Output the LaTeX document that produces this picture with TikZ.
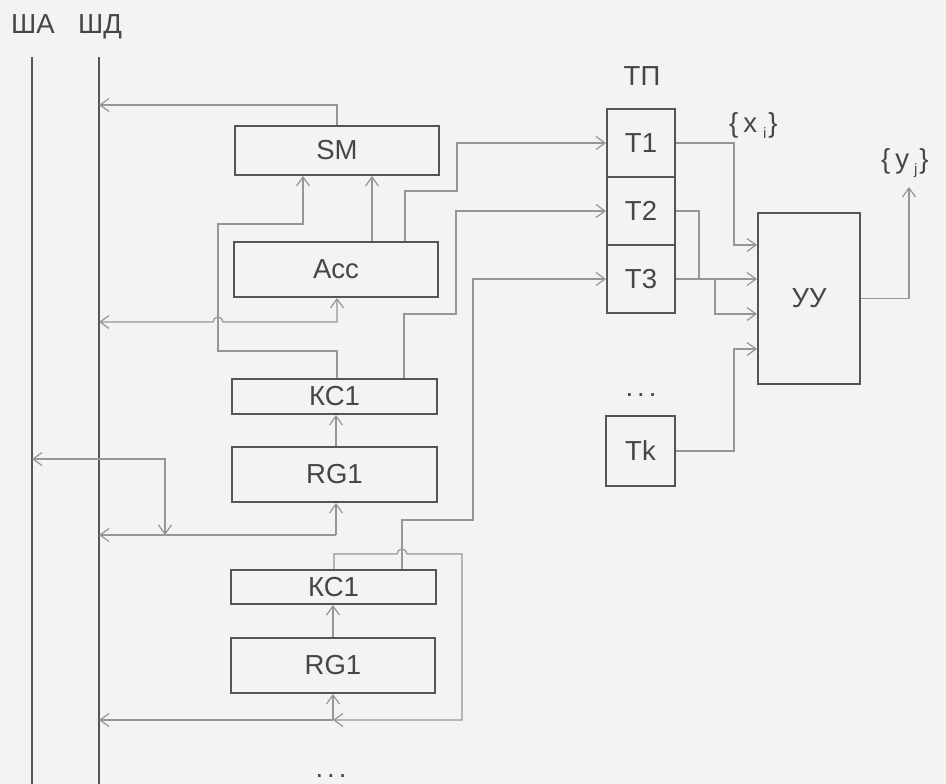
\documentclass[tikz,border=0pt]{standalone}
\usepackage{fontspec}
\setmainfont{Liberation Sans}
\usetikzlibrary{arrows.meta}
\definecolor{bg}{RGB}{243,243,241}
\definecolor{boxc}{RGB}{85,85,85}
\definecolor{wire}{RGB}{150,150,150}
\definecolor{txt}{RGB}{70,70,70}
\newcommand\mylbl{\fontsize{27.5}{30}\selectfont}
\newcommand\mysub{\fontsize{15}{15}\selectfont}
\newcommand\mydots{.\kern4pt.\kern4pt.}
\begin{document}
\begin{tikzpicture}[x=1pt,y=-1pt,
  >={Straight Barb[length=9pt,width=13pt]},
  box/.style={draw=boxc,line width=2pt,inner sep=0pt,font=\mylbl,text=txt},
  conn/.style={draw=wire,line width=1.2pt},
  lbl/.style={font=\mylbl,text=txt,inner sep=0pt},
  bus/.style={draw=boxc,line width=2pt}]
\fill[bg] (0,0) rectangle (946,784);
\useasboundingbox (0,0) rectangle (946,784);

% blocks
\node[box,minimum width=204pt,minimum height=49pt] (SM) at (337,150.5) {SM};
\node[box,minimum width=204pt,minimum height=55pt] (Acc) at (336,269.5) {Acc};
\node[box,minimum width=205pt,minimum height=35pt] (KCa) at (334.5,396.5) {КС1};
\node[box,minimum width=205pt,minimum height=55pt] (RGa) at (334.5,474.5) {RG1};
\node[box,minimum width=205pt,minimum height=34pt] (KCb) at (333.5,587) {КС1};
\node[box,minimum width=204pt,minimum height=55pt] (RGb) at (333,665.5) {RG1};
\node[box,minimum size=68pt] (T1) at (641,143) {T1};
\node[box,minimum size=68pt] (T2) at (641,211) {T2};
\node[box,minimum size=68pt] (T3) at (641,279) {T3};
\node[box,minimum width=69pt,minimum height=70pt] (Tk) at (640.5,451) {Tk};
\node[box,minimum width=102pt,minimum height=171pt] (YY) at (809,298.5) {УУ};

% labels
\node[lbl,anchor=base] (lSHA) at (33,34) {ША};
\node[lbl,anchor=base] (lSHD) at (100,34) {ШД};
\node[lbl,anchor=base] (lTP) at (642,85) {ТП};
\node[lbl,anchor=base west] (lx) at (729,132) {\{\kern5pt x\kern6pt\raisebox{-6pt}{\mysub i}\kern2pt\}};
\node[lbl,anchor=base west] (ly) at (881,168) {\{\kern5pt y\kern5pt\raisebox{-6pt}{\mysub j}\kern2pt\}};
\node[lbl,anchor=base] (dots1) at (641,396) {\mydots};
\node[lbl,anchor=base] (dots2) at (331,777) {\mydots};

% buses
\coordinate (shaT) at (32,57); \coordinate (shaB) at (32,784);
\coordinate (shdT) at (99,57); \coordinate (shdB) at (99,784);
\draw[bus] (shaT) -- (shaB);
\draw[bus] (shdT) -- (shdB);

% left connectors
\draw[conn,->] (SM.north) |- (shdT |- 0,105);
\draw[conn,->] (Acc.north -| 372,0) -- (SM.south -| 372,0);
\draw[conn,->] (KCa.north -| 337,0) -- (337,351) -- (218,351) -- (218,224) -- (303,224) -- (SM.south -| 303,0);
\draw[conn,<->] (shdT |- 0,322) -- (213,322) arc[start angle=180,end angle=0,radius=5pt] -- (337,322) -- (Acc.south -| 337,0);
\draw[conn,->] (Acc.north -| 405,0) -- (405,191) -- (457,191) |- (T1.west);
\draw[conn,->] (KCa.north -| 404,0) -- (404,314) -- (456,314) |- (T2.west);
\draw[conn,->] (KCb.north -| 402,0) -- (402,520) -- (473,520) |- (T3.west);
\coordinate (j2) at (333,720);
\draw[conn,->] (KCb.north -| 334,0) -- (334,554) -- (397,554) arc[start angle=180,end angle=0,radius=5pt] -- (462,554) -- (462,720) -- (j2);
\draw[conn,->] (j2) -- (shdT |- j2);
\draw[conn,->] (j2) -- (RGb.south -| j2);
\draw[conn,->] (RGa.north -| 336,0) -- (KCa.south -| 336,0);
\draw[conn,->] (RGb.north -| 333,0) -- (KCb.south -| 333,0);
\coordinate (j1) at (336,535);
\draw[conn,->] (j1) -- (shdT |- j1);
\draw[conn,->] (j1) -- (RGa.south -| j1);
\coordinate (j3) at (165,535);
\draw[conn,<->] (shaT |- 0,459) -- (165,459) -- (j3);

% right connectors
\draw[conn,->] (T1.east) -- (734,143) |- (YY.west |- 0,245);
\draw[conn] (T2.east) -| (699,279);
\draw[conn,->] (T3.east) -- (YY.west |- T3.east);
\coordinate (j4) at (715,279);
\draw[conn,->] (j4) |- (YY.west |- 0,314);
\draw[conn,->] (Tk.east) -| (734,349) -- (YY.west |- 0,349);
\coordinate (yout) at (909,187);
\draw[conn,->] (YY.east) -| (yout);
\end{tikzpicture}
\end{document}
